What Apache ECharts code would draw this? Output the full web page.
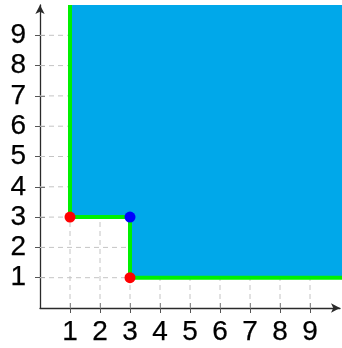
<!DOCTYPE html>
<html>
<head>
<meta charset="utf-8">
<script src="https://cdn.jsdelivr.net/npm/echarts@6/dist/echarts.min.js"></script>
<style>html,body{margin:0;padding:0;background:#fff}#c{width:342px;height:348px}</style>
</head>
<body>
<div id="c"></div>
<script>
// tick labels
const xTicks = [1, 2, 3, 4, 5, 6, 7, 8, 9];
const yTicks = [1, 2, 3, 4, 5, 6, 7, 8, 9];
// filled region (vertices)
const regionX = [1, 1, 3, 3, 10.07, 10.07];
const regionY = [10, 3, 3, 1, 1, 10];
// green boundary
const boundaryX = [1, 1, 3, 3, 10.07];
const boundaryY = [10, 3, 3, 1, 1];
// points
const redPoints = [[1, 3], [3, 1]];
const bluePoints = [[3, 3]];

const font = 'Liberation Sans, Arial, sans-serif';
const axisColor = '#2a2a2a';

const chart = echarts.init(document.getElementById('c'), null, {renderer: 'canvas'});

function baseAxis(ticks, extra) {
  return Object.assign({
    type: 'value', min: 0, max: 10, interval: 1,
    splitLine: {show: false},
    axisLine: {show: false, onZero: false},
    axisTick: {show: true, length: 5, customValues: ticks, lineStyle: {color: '#555', width: 1}},
    axisLabel: {show: false}
  }, extra);
}

const labelStyle = {fontSize: 28, color: '#000', fontFamily: font, textBorderColor: '#000', textBorderWidth: 0.25};
const gridStyle = {stroke: '#c4c4c4', lineWidth: 1, lineDash: [5, 4]};

const option = {
  animation: false,
  grid: {left: 40, right: 2, top: 5, bottom: 40, containLabel: false},
  xAxis: [
    baseAxis(xTicks, {
      position: 'bottom',
      axisLine: {show: true, onZero: false, symbol: ['none', 'arrow'], symbolSize: [7, 9],
        lineStyle: {color: axisColor, width: 1.3}},
      axisLabel: Object.assign({show: true, customValues: xTicks, margin: 10}, labelStyle)
    }),
    baseAxis(xTicks, {position: 'bottom', axisTick: {show: true, inside: true, length: 5, customValues: xTicks, lineStyle: {color: '#555', width: 1}}})
  ],
  yAxis: [
    baseAxis(yTicks, {
      position: 'left',
      axisLine: {show: true, onZero: false, symbol: ['none', 'arrow'], symbolSize: [7, 9],
        lineStyle: {color: axisColor, width: 1.3}},
      axisLabel: Object.assign({show: true, customValues: yTicks, margin: 14}, labelStyle)
    }),
    baseAxis(yTicks, {position: 'left', axisTick: {show: true, inside: true, length: 5, customValues: yTicks, lineStyle: {color: '#555', width: 1}}})
  ],
  series: [
    {
      type: 'custom', z: 1, silent: true,
      data: xTicks,
      renderItem: function (params, api) {
        const v = api.value(0);
        const a = api.coord([v, 0]), b = api.coord([v, 10]);
        return {type: 'line', shape: {x1: a[0], y1: a[1], x2: b[0], y2: b[1]}, style: gridStyle};
      }
    },
    {
      type: 'custom', z: 1, silent: true,
      data: yTicks.map(v => [0, v]),
      renderItem: function (params, api) {
        const v = api.value(1);
        const a = api.coord([0, v]), b = api.coord([10, v]);
        return {type: 'line', shape: {x1: a[0], y1: a[1], x2: b[0], y2: b[1]}, style: gridStyle};
      }
    },
    {
      type: 'custom', z: 2, clip: false, silent: true,
      data: [0],
      renderItem: function (params, api) {
        const pts = regionX.map((x, i) => api.coord([x, regionY[i]]));
        return {type: 'polygon', shape: {points: pts}, style: {fill: '#00a8ea'}};
      }
    },
    {
      type: 'line', z: 3, clip: false, silent: true, symbol: 'none',
      data: boundaryX.map((x, i) => [x, boundaryY[i]]),
      lineStyle: {color: '#00f000', width: 4, join: 'miter'}
    },
    {
      type: 'scatter', z: 4, silent: true, symbolSize: 11,
      data: redPoints, itemStyle: {color: '#ff0000', opacity: 1}
    },
    {
      type: 'scatter', z: 4, silent: true, symbolSize: 11,
      data: bluePoints, itemStyle: {color: '#0000ff', opacity: 1}
    }
  ]
};
chart.setOption(option);
</script>
</body>
</html>
